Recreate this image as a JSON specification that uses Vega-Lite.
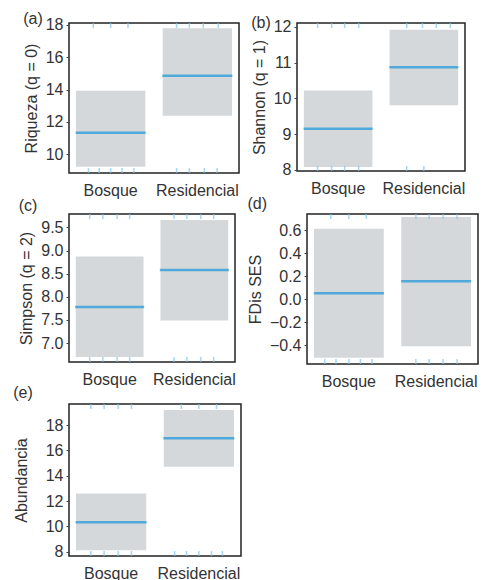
{
  "$schema": "https://vega.github.io/schema/vega-lite/v6.json",
  "padding": {"left": 12, "top": 10, "right": 0, "bottom": 0},
  "background": "white",
  "datasets": {
    "boxes": [
      {"panel": "a", "grupo": "Bosque", "lo": 9.22, "hi": 13.92, "media": 11.32},
      {"panel": "a", "grupo": "Residencial", "lo": 12.37, "hi": 17.8, "media": 14.86},
      {"panel": "b", "grupo": "Bosque", "lo": 8.08, "hi": 10.22, "media": 9.15},
      {"panel": "b", "grupo": "Residencial", "lo": 9.81, "hi": 11.92, "media": 10.87},
      {"panel": "c", "grupo": "Bosque", "lo": 6.7, "hi": 8.87, "media": 7.78},
      {"panel": "c", "grupo": "Residencial", "lo": 7.49, "hi": 9.66, "media": 8.58},
      {"panel": "d", "grupo": "Bosque", "lo": -0.51, "hi": 0.612, "media": 0.05},
      {"panel": "d", "grupo": "Residencial", "lo": -0.411, "hi": 0.713, "media": 0.154},
      {"panel": "e", "grupo": "Bosque", "lo": 8.11, "hi": 12.59, "media": 10.33},
      {"panel": "e", "grupo": "Residencial", "lo": 14.7, "hi": 19.19, "media": 16.95}
    ],
    "rug": [
      {"panel": "a", "grupo": "Bosque", "side": "top", "o": -0.5},
      {"panel": "a", "grupo": "Bosque", "side": "top", "o": 0},
      {"panel": "a", "grupo": "Bosque", "side": "top", "o": 0.5},
      {"panel": "a", "grupo": "Bosque", "side": "bottom", "o": -0.64},
      {"panel": "a", "grupo": "Bosque", "side": "bottom", "o": -0.33},
      {"panel": "a", "grupo": "Bosque", "side": "bottom", "o": 0},
      {"panel": "a", "grupo": "Bosque", "side": "bottom", "o": 0.33},
      {"panel": "a", "grupo": "Bosque", "side": "bottom", "o": 0.67},
      {"panel": "a", "grupo": "Residencial", "side": "top", "o": -0.6},
      {"panel": "a", "grupo": "Residencial", "side": "top", "o": -0.23},
      {"panel": "a", "grupo": "Residencial", "side": "top", "o": 0.17},
      {"panel": "a", "grupo": "Residencial", "side": "top", "o": 0.6},
      {"panel": "a", "grupo": "Residencial", "side": "bottom", "o": -0.6},
      {"panel": "a", "grupo": "Residencial", "side": "bottom", "o": -0.23},
      {"panel": "a", "grupo": "Residencial", "side": "bottom", "o": 0.2},
      {"panel": "a", "grupo": "Residencial", "side": "bottom", "o": 0.57},
      {"panel": "b", "grupo": "Bosque", "side": "top", "o": -0.6},
      {"panel": "b", "grupo": "Bosque", "side": "top", "o": -0.19},
      {"panel": "b", "grupo": "Bosque", "side": "top", "o": 0.19},
      {"panel": "b", "grupo": "Bosque", "side": "top", "o": 0.6},
      {"panel": "b", "grupo": "Bosque", "side": "bottom", "o": -0.6},
      {"panel": "b", "grupo": "Bosque", "side": "bottom", "o": -0.19},
      {"panel": "b", "grupo": "Bosque", "side": "bottom", "o": 0.19},
      {"panel": "b", "grupo": "Bosque", "side": "bottom", "o": 0.6},
      {"panel": "b", "grupo": "Residencial", "side": "top", "o": -0.5},
      {"panel": "b", "grupo": "Residencial", "side": "top", "o": -0.04},
      {"panel": "b", "grupo": "Residencial", "side": "top", "o": 0.36},
      {"panel": "b", "grupo": "Residencial", "side": "top", "o": 0.77},
      {"panel": "b", "grupo": "Residencial", "side": "bottom", "o": -0.5},
      {"panel": "b", "grupo": "Residencial", "side": "bottom", "o": 0.0},
      {"panel": "c", "grupo": "Bosque", "side": "top", "o": -0.59},
      {"panel": "c", "grupo": "Bosque", "side": "top", "o": -0.2},
      {"panel": "c", "grupo": "Bosque", "side": "top", "o": 0.22},
      {"panel": "c", "grupo": "Bosque", "side": "top", "o": 0.59},
      {"panel": "c", "grupo": "Bosque", "side": "bottom", "o": -0.59},
      {"panel": "c", "grupo": "Bosque", "side": "bottom", "o": -0.2},
      {"panel": "c", "grupo": "Bosque", "side": "bottom", "o": 0.22},
      {"panel": "c", "grupo": "Bosque", "side": "bottom", "o": 0.59},
      {"panel": "c", "grupo": "Residencial", "side": "top", "o": -0.6},
      {"panel": "c", "grupo": "Residencial", "side": "top", "o": -0.22},
      {"panel": "c", "grupo": "Residencial", "side": "top", "o": 0.19},
      {"panel": "c", "grupo": "Residencial", "side": "top", "o": 0.57},
      {"panel": "c", "grupo": "Residencial", "side": "bottom", "o": -0.6},
      {"panel": "c", "grupo": "Residencial", "side": "bottom", "o": -0.22},
      {"panel": "c", "grupo": "Residencial", "side": "bottom", "o": 0.19},
      {"panel": "c", "grupo": "Residencial", "side": "bottom", "o": 0.57},
      {"panel": "d", "grupo": "Bosque", "side": "top", "o": -0.52},
      {"panel": "d", "grupo": "Bosque", "side": "top", "o": 0},
      {"panel": "d", "grupo": "Bosque", "side": "top", "o": 0.5},
      {"panel": "d", "grupo": "Bosque", "side": "bottom", "o": -0.69},
      {"panel": "d", "grupo": "Bosque", "side": "bottom", "o": -0.37},
      {"panel": "d", "grupo": "Bosque", "side": "bottom", "o": 0},
      {"panel": "d", "grupo": "Bosque", "side": "bottom", "o": 0.33},
      {"panel": "d", "grupo": "Bosque", "side": "bottom", "o": 0.66},
      {"panel": "d", "grupo": "Residencial", "side": "top", "o": -0.58},
      {"panel": "d", "grupo": "Residencial", "side": "top", "o": -0.2},
      {"panel": "d", "grupo": "Residencial", "side": "top", "o": 0.2},
      {"panel": "d", "grupo": "Residencial", "side": "top", "o": 0.6},
      {"panel": "d", "grupo": "Residencial", "side": "bottom", "o": -0.58},
      {"panel": "d", "grupo": "Residencial", "side": "bottom", "o": -0.2},
      {"panel": "d", "grupo": "Residencial", "side": "bottom", "o": 0.2},
      {"panel": "d", "grupo": "Residencial", "side": "bottom", "o": 0.6},
      {"panel": "e", "grupo": "Bosque", "side": "top", "o": -0.58},
      {"panel": "e", "grupo": "Bosque", "side": "top", "o": -0.2},
      {"panel": "e", "grupo": "Bosque", "side": "top", "o": 0.2},
      {"panel": "e", "grupo": "Bosque", "side": "top", "o": 0.58},
      {"panel": "e", "grupo": "Bosque", "side": "bottom", "o": -0.58},
      {"panel": "e", "grupo": "Bosque", "side": "bottom", "o": -0.2},
      {"panel": "e", "grupo": "Bosque", "side": "bottom", "o": 0.2},
      {"panel": "e", "grupo": "Bosque", "side": "bottom", "o": 0.58},
      {"panel": "e", "grupo": "Residencial", "side": "top", "o": -0.5},
      {"panel": "e", "grupo": "Residencial", "side": "top", "o": 0},
      {"panel": "e", "grupo": "Residencial", "side": "top", "o": 0.5},
      {"panel": "e", "grupo": "Residencial", "side": "bottom", "o": -0.69},
      {"panel": "e", "grupo": "Residencial", "side": "bottom", "o": -0.35},
      {"panel": "e", "grupo": "Residencial", "side": "bottom", "o": 0},
      {"panel": "e", "grupo": "Residencial", "side": "bottom", "o": 0.36},
      {"panel": "e", "grupo": "Residencial", "side": "bottom", "o": 0.67}
    ]
  },
  "spacing": -6,
  "vconcat": [
    {
      "spacing": -4,
      "vconcat": [
        {
          "spacing": 10,
          "hconcat": [
            {
              "width": 170, "height": 150,
              "title": {"text": "(a)", "offset": -10},
              "resolve": {"scale": {"x": "independent", "xOffset": "independent"}},
              "layer": [
                {"data": {"name": "boxes"}, "transform": [{"filter": "datum.panel === 'a'"}],
                 "mark": {"type": "bar", "color": "#d5d8da"},
                 "encoding": {"x": {"field": "grupo", "type": "nominal", "scale": {"paddingInner": 0.2, "paddingOuter": 0.08}, "axis": {"title": null}},
                   "y": {"field": "lo", "type": "quantitative", "scale": {"domain": [8.83, 18.12], "nice": false, "zero": false}, "axis": {"values": [10, 12, 14, 16, 18], "labelOverlap": false, "title": "Riqueza (q = 0)"}}, "y2": {"field": "hi"}}},
                {"data": {"name": "boxes"}, "transform": [{"filter": "datum.panel === 'a'"}],
                 "mark": {"type": "tick", "color": "#1597dc", "thickness": 2.5, "size": 70},
                 "encoding": {"x": {"field": "grupo", "type": "nominal", "scale": {"paddingInner": 0.2, "paddingOuter": 0.08}, "axis": null},
                   "y": {"field": "media", "type": "quantitative", "axis": {"values": [10, 12, 14, 16, 18], "labelOverlap": false, "title": "Riqueza (q = 0)"}}}},
                {"data": {"name": "rug"}, "transform": [{"filter": "datum.panel === 'a' && datum.side === 'top'"}],
                 "mark": {"type": "tick", "orient": "vertical", "color": "#7cc5ee", "thickness": 1.5, "size": 10, "clip": true},
                 "encoding": {"x": {"field": "grupo", "type": "nominal", "scale": {"paddingInner": 0.2, "paddingOuter": 0.08}, "axis": null},
                   "xOffset": {"field": "o", "type": "quantitative", "scale": {"domain": [-1, 1]}}, "y": {"datum": 18.12, "type": "quantitative", "axis": {"values": [10, 12, 14, 16, 18], "labelOverlap": false, "title": "Riqueza (q = 0)"}}}},
                {"data": {"name": "rug"}, "transform": [{"filter": "datum.panel === 'a' && datum.side === 'bottom'"}],
                 "mark": {"type": "tick", "orient": "vertical", "color": "#7cc5ee", "thickness": 1.5, "size": 10, "clip": true},
                 "encoding": {"x": {"field": "grupo", "type": "nominal", "scale": {"paddingInner": 0.2, "paddingOuter": 0.08}, "axis": null},
                   "xOffset": {"field": "o", "type": "quantitative", "scale": {"domain": [-1, 1]}}, "y": {"datum": 8.83, "type": "quantitative", "axis": {"values": [10, 12, 14, 16, 18], "labelOverlap": false, "title": "Riqueza (q = 0)"}}}}
              ]
            },
            {
              "width": 168, "height": 148,
              "title": {"text": "(b)", "offset": -12},
              "resolve": {"scale": {"x": "independent", "xOffset": "independent"}},
              "layer": [
                {"data": {"name": "boxes"}, "transform": [{"filter": "datum.panel === 'b'"}],
                 "mark": {"type": "bar", "color": "#d5d8da"},
                 "encoding": {"x": {"field": "grupo", "type": "nominal", "scale": {"paddingInner": 0.2, "paddingOuter": 0.08}, "axis": {"title": null}},
                   "y": {"field": "lo", "type": "quantitative", "scale": {"domain": [7.97, 12.11], "nice": false, "zero": false}, "axis": {"values": [8, 9, 10, 11, 12], "labelOverlap": false, "title": "Shannon (q = 1)"}}, "y2": {"field": "hi"}}},
                {"data": {"name": "boxes"}, "transform": [{"filter": "datum.panel === 'b'"}],
                 "mark": {"type": "tick", "color": "#1597dc", "thickness": 2.5, "size": 69},
                 "encoding": {"x": {"field": "grupo", "type": "nominal", "scale": {"paddingInner": 0.2, "paddingOuter": 0.08}, "axis": null},
                   "y": {"field": "media", "type": "quantitative", "axis": {"values": [8, 9, 10, 11, 12], "labelOverlap": false, "title": "Shannon (q = 1)"}}}},
                {"data": {"name": "rug"}, "transform": [{"filter": "datum.panel === 'b' && datum.side === 'top'"}],
                 "mark": {"type": "tick", "orient": "vertical", "color": "#7cc5ee", "thickness": 1.5, "size": 10, "clip": true},
                 "encoding": {"x": {"field": "grupo", "type": "nominal", "scale": {"paddingInner": 0.2, "paddingOuter": 0.08}, "axis": null},
                   "xOffset": {"field": "o", "type": "quantitative", "scale": {"domain": [-1, 1]}}, "y": {"datum": 12.11, "type": "quantitative", "axis": {"values": [8, 9, 10, 11, 12], "labelOverlap": false, "title": "Shannon (q = 1)"}}}},
                {"data": {"name": "rug"}, "transform": [{"filter": "datum.panel === 'b' && datum.side === 'bottom'"}],
                 "mark": {"type": "tick", "orient": "vertical", "color": "#7cc5ee", "thickness": 1.5, "size": 10, "clip": true},
                 "encoding": {"x": {"field": "grupo", "type": "nominal", "scale": {"paddingInner": 0.2, "paddingOuter": 0.08}, "axis": null},
                   "xOffset": {"field": "o", "type": "quantitative", "scale": {"domain": [-1, 1]}}, "y": {"datum": 7.97, "type": "quantitative", "axis": {"values": [8, 9, 10, 11, 12], "labelOverlap": false, "title": "Shannon (q = 1)"}}}}
              ]
            }
          ]
        },
        {
          "spacing": 10,
          "hconcat": [
            {
              "width": 166, "height": 148,
              "title": {"text": "(c)", "offset": 0},
              "resolve": {"scale": {"x": "independent", "xOffset": "independent"}},
              "layer": [
                {"data": {"name": "boxes"}, "transform": [{"filter": "datum.panel === 'c'"}],
                 "mark": {"type": "bar", "color": "#d5d8da"},
                 "encoding": {"x": {"field": "grupo", "type": "nominal", "scale": {"paddingInner": 0.2, "paddingOuter": 0.08}, "axis": {"title": null}},
                   "y": {"field": "lo", "type": "quantitative", "scale": {"domain": [6.59, 9.79], "nice": false, "zero": false}, "axis": {"values": [7, 7.5, 8, 8.5, 9, 9.5], "format": ".1f", "labelOverlap": false, "title": "Simpson (q = 2)"}}, "y2": {"field": "hi"}}},
                {"data": {"name": "boxes"}, "transform": [{"filter": "datum.panel === 'c'"}],
                 "mark": {"type": "tick", "color": "#1597dc", "thickness": 2.5, "size": 69},
                 "encoding": {"x": {"field": "grupo", "type": "nominal", "scale": {"paddingInner": 0.2, "paddingOuter": 0.08}, "axis": null},
                   "y": {"field": "media", "type": "quantitative", "axis": {"values": [7, 7.5, 8, 8.5, 9, 9.5], "format": ".1f", "labelOverlap": false, "title": "Simpson (q = 2)"}}}},
                {"data": {"name": "rug"}, "transform": [{"filter": "datum.panel === 'c' && datum.side === 'top'"}],
                 "mark": {"type": "tick", "orient": "vertical", "color": "#7cc5ee", "thickness": 1.5, "size": 10, "clip": true},
                 "encoding": {"x": {"field": "grupo", "type": "nominal", "scale": {"paddingInner": 0.2, "paddingOuter": 0.08}, "axis": null},
                   "xOffset": {"field": "o", "type": "quantitative", "scale": {"domain": [-1, 1]}}, "y": {"datum": 9.79, "type": "quantitative", "axis": {"values": [7, 7.5, 8, 8.5, 9, 9.5], "format": ".1f", "labelOverlap": false, "title": "Simpson (q = 2)"}}}},
                {"data": {"name": "rug"}, "transform": [{"filter": "datum.panel === 'c' && datum.side === 'bottom'"}],
                 "mark": {"type": "tick", "orient": "vertical", "color": "#7cc5ee", "thickness": 1.5, "size": 10, "clip": true},
                 "encoding": {"x": {"field": "grupo", "type": "nominal", "scale": {"paddingInner": 0.2, "paddingOuter": 0.08}, "axis": null},
                   "xOffset": {"field": "o", "type": "quantitative", "scale": {"domain": [-1, 1]}}, "y": {"datum": 6.59, "type": "quantitative", "axis": {"values": [7, 7.5, 8, 8.5, 9, 9.5], "format": ".1f", "labelOverlap": false, "title": "Simpson (q = 2)"}}}}
              ]
            },
            {
              "width": 171, "height": 150,
              "title": {"text": "(d)", "offset": 2},
              "resolve": {"scale": {"x": "independent", "xOffset": "independent"}},
              "layer": [
                {"data": {"name": "boxes"}, "transform": [{"filter": "datum.panel === 'd'"}],
                 "mark": {"type": "bar", "color": "#d5d8da"},
                 "encoding": {"x": {"field": "grupo", "type": "nominal", "scale": {"paddingInner": 0.2, "paddingOuter": 0.08}, "axis": {"title": null}},
                   "y": {"field": "lo", "type": "quantitative", "scale": {"domain": [-0.565, 0.74], "nice": false, "zero": false}, "axis": {"values": [-0.4, -0.2, 0, 0.2, 0.4, 0.6], "format": ".1f", "labelOverlap": false, "title": "FDis SES"}}, "y2": {"field": "hi"}}},
                {"data": {"name": "boxes"}, "transform": [{"filter": "datum.panel === 'd'"}],
                 "mark": {"type": "tick", "color": "#1597dc", "thickness": 2.5, "size": 70},
                 "encoding": {"x": {"field": "grupo", "type": "nominal", "scale": {"paddingInner": 0.2, "paddingOuter": 0.08}, "axis": null},
                   "y": {"field": "media", "type": "quantitative", "axis": {"values": [-0.4, -0.2, 0, 0.2, 0.4, 0.6], "format": ".1f", "labelOverlap": false, "title": "FDis SES"}}}},
                {"data": {"name": "rug"}, "transform": [{"filter": "datum.panel === 'd' && datum.side === 'top'"}],
                 "mark": {"type": "tick", "orient": "vertical", "color": "#7cc5ee", "thickness": 1.5, "size": 10, "clip": true},
                 "encoding": {"x": {"field": "grupo", "type": "nominal", "scale": {"paddingInner": 0.2, "paddingOuter": 0.08}, "axis": null},
                   "xOffset": {"field": "o", "type": "quantitative", "scale": {"domain": [-1, 1]}}, "y": {"datum": 0.74, "type": "quantitative", "axis": {"values": [-0.4, -0.2, 0, 0.2, 0.4, 0.6], "format": ".1f", "labelOverlap": false, "title": "FDis SES"}}}},
                {"data": {"name": "rug"}, "transform": [{"filter": "datum.panel === 'd' && datum.side === 'bottom'"}],
                 "mark": {"type": "tick", "orient": "vertical", "color": "#7cc5ee", "thickness": 1.5, "size": 10, "clip": true},
                 "encoding": {"x": {"field": "grupo", "type": "nominal", "scale": {"paddingInner": 0.2, "paddingOuter": 0.08}, "axis": null},
                   "xOffset": {"field": "o", "type": "quantitative", "scale": {"domain": [-1, 1]}}, "y": {"datum": -0.565, "type": "quantitative", "axis": {"values": [-0.4, -0.2, 0, 0.2, 0.4, 0.6], "format": ".1f", "labelOverlap": false, "title": "FDis SES"}}}}
              ]
            }
          ]
        }
      ]
    },
    {
      "width": 172, "height": 152,
      "title": {"text": "(e)", "offset": 3},
      "resolve": {"scale": {"x": "independent", "xOffset": "independent"}},
      "layer": [
        {"data": {"name": "boxes"}, "transform": [{"filter": "datum.panel === 'e'"}],
         "mark": {"type": "bar", "color": "#d5d8da"},
         "encoding": {"x": {"field": "grupo", "type": "nominal", "scale": {"paddingInner": 0.2, "paddingOuter": 0.08}, "axis": {"title": null}},
           "y": {"field": "lo", "type": "quantitative", "scale": {"domain": [7.66, 19.66], "nice": false, "zero": false}, "axis": {"values": [8, 10, 12, 14, 16, 18], "labelOverlap": false, "title": "Abundancia", "titlePadding": 16}}, "y2": {"field": "hi"}}},
        {"data": {"name": "boxes"}, "transform": [{"filter": "datum.panel === 'e'"}],
         "mark": {"type": "tick", "color": "#1597dc", "thickness": 2.5, "size": 71},
         "encoding": {"x": {"field": "grupo", "type": "nominal", "scale": {"paddingInner": 0.2, "paddingOuter": 0.08}, "axis": null},
           "y": {"field": "media", "type": "quantitative", "axis": {"values": [8, 10, 12, 14, 16, 18], "labelOverlap": false, "title": "Abundancia", "titlePadding": 16}}}},
        {"data": {"name": "rug"}, "transform": [{"filter": "datum.panel === 'e' && datum.side === 'top'"}],
         "mark": {"type": "tick", "orient": "vertical", "color": "#7cc5ee", "thickness": 1.5, "size": 10, "clip": true},
         "encoding": {"x": {"field": "grupo", "type": "nominal", "scale": {"paddingInner": 0.2, "paddingOuter": 0.08}, "axis": null},
           "xOffset": {"field": "o", "type": "quantitative", "scale": {"domain": [-1, 1]}}, "y": {"datum": 19.66, "type": "quantitative", "axis": {"values": [8, 10, 12, 14, 16, 18], "labelOverlap": false, "title": "Abundancia", "titlePadding": 16}}}},
        {"data": {"name": "rug"}, "transform": [{"filter": "datum.panel === 'e' && datum.side === 'bottom'"}],
         "mark": {"type": "tick", "orient": "vertical", "color": "#7cc5ee", "thickness": 1.5, "size": 10, "clip": true},
         "encoding": {"x": {"field": "grupo", "type": "nominal", "scale": {"paddingInner": 0.2, "paddingOuter": 0.08}, "axis": null},
           "xOffset": {"field": "o", "type": "quantitative", "scale": {"domain": [-1, 1]}}, "y": {"datum": 7.66, "type": "quantitative", "axis": {"values": [8, 10, 12, 14, 16, 18], "labelOverlap": false, "title": "Abundancia", "titlePadding": 16}}}}
      ]
    }
  ],
  "config": {
    "view": {"stroke": "#222", "strokeWidth": 1.5},
    "font": "Liberation Sans",
    "axis": {"labelFont": "Liberation Sans", "labelFontSize": 16, "labelColor": "#333", "titleFont": "Liberation Sans", "titleFontSize": 16, "titleFontWeight": "normal", "titleColor": "#333", "domain": false, "grid": false, "tickColor": "#444", "tickSize": 3},
    "axisX": {"ticks": false, "labelPadding": 9, "labelAngle": 0},
    "axisY": {"labelPadding": 3, "titlePadding": 6, "labelOverlap": false},
    "title": {"font": "Liberation Sans", "fontSize": 16, "fontWeight": "normal", "color": "#333", "anchor": "start", "frame": "bounds"}
  }
}
